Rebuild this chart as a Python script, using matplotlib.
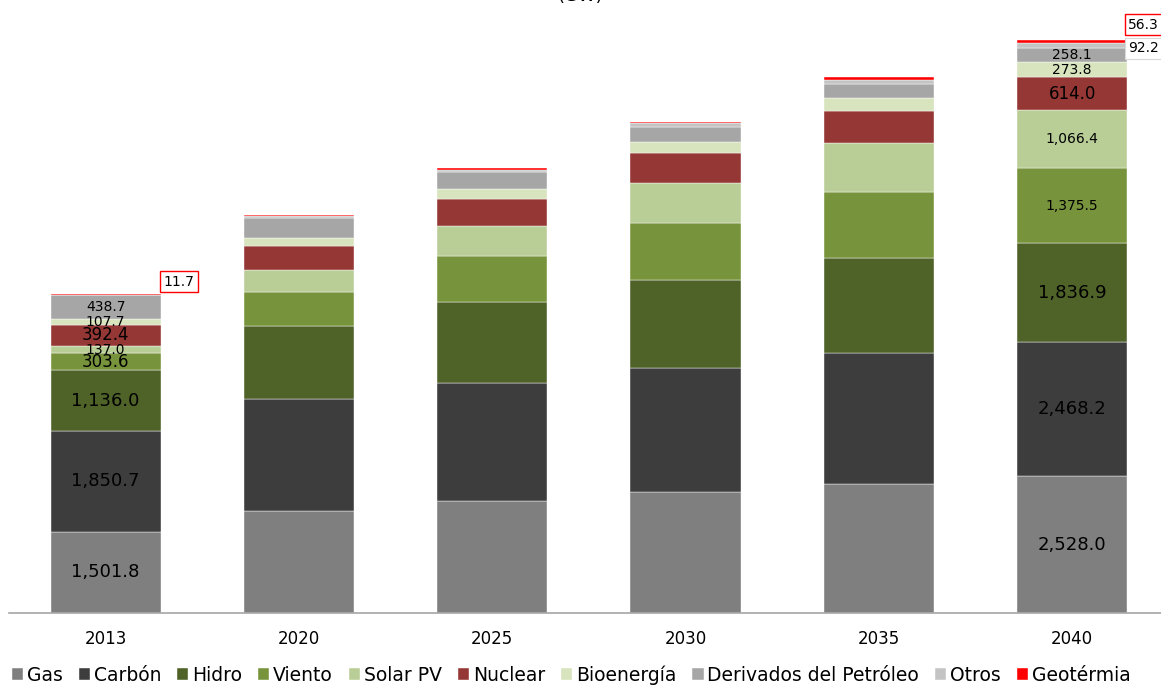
import matplotlib
matplotlib.use("Agg")
import matplotlib.pyplot as plt
import numpy as np

years = ["2013", "2020", "2025", "2030", "2035", "2040"]
series_names = ["Gas", "Carbón", "Hidro", "Viento", "Solar PV", "Nuclear",
                "Bioenergía", "Derivados del Petróleo", "Otros", "Geotérmia"]
gas        = [1501.8, 1890, 2060, 2230, 2380, 2528.0]
carbon     = [1850.7, 2066, 2180, 2290, 2417, 2468.2]
hidro      = [1136.0, 1347, 1494, 1624, 1753, 1836.9]
viento     = [303.6, 627, 849, 1052, 1218, 1375.5]
solar      = [137.0, 406, 554, 738, 904, 1066.4]
nuclear    = [392.4, 443, 498, 553, 590, 614.0]
bio        = [107.7, 148, 185, 203, 240, 273.8]
derivados  = [438.7, 369, 320, 285, 262, 258.1]
otros      = [8, 30, 45, 60, 75, 92.2]
geo        = [11.7, 20, 28, 36, 45, 56.3]

colors = ["#7f7f7f", "#3d3d3d", "#4f6228", "#77933c", "#b9cd96", "#953735",
          "#d7e4bd", "#a6a6a6", "#c4c4c4", "#ff0000"]
data = [gas, carbon, hidro, viento, solar, nuclear, bio, derivados, otros, geo]

plt.rcParams['font.family'] = ['DejaVu Sans']
fig = plt.figure(figsize=(11.61, 6.86), dpi=100)
ax = fig.add_axes([9/1161, 1 - 613/686, 1152/1161, (613 - 30)/686])

x = np.arange(len(years))
width = 0.57
bottom = np.zeros(len(years))
bars = []
for name, vals, c in zip(series_names, data, colors):
    ax.bar(x, vals, width, bottom=bottom, color=c, label=name,
           edgecolor="white", linewidth=0.3)
    bars.append((vals, bottom.copy()))
    bottom = bottom + np.array(vals)

ax.set_xlim(-0.5, 5.46)
ax.set_ylim(0, 10760)
ax.set_yticks([])
for s in ["top", "right", "left"]:
    ax.spines[s].set_visible(False)
ax.spines["bottom"].set_color("#a6a6a6")
ax.spines["bottom"].set_linewidth(1.2)
ax.set_xticks(x)
ax.set_xticklabels(years, fontsize=12)
ax.tick_params(axis="x", length=0, pad=12)

def fmt(v):
    return "{:,.1f}".format(v)

# labels for 2013 (index 0)
sizes_2013 = [13, 13, 13, 12, 10, 12, 10, 10]
for k in range(8):
    vals, bot = bars[k]
    ax.text(0, bot[0] + vals[0] / 2, fmt(vals[0]), ha="center", va="center",
            fontsize=sizes_2013[k], color="black")
# labels for 2040 (index 5)
sizes_2040 = [13, 13, 13, 10, 10, 12, 10, 10]
for k in range(8):
    vals, bot = bars[k]
    ax.text(5, bot[5] + vals[5] / 2, fmt(vals[5]), ha="center", va="center",
            fontsize=sizes_2040[k], color="black")

# boxed labels
top2013 = bottom[0]
ax.text(0.3, top2013 + 230, fmt(geo[0]), ha="left", va="center", fontsize=10,
        bbox=dict(boxstyle="square,pad=0.25", fc="white", ec="red", lw=1))
top2040 = bottom[5]
ax.text(5.29, top2040 + 290, fmt(geo[5]), ha="left", va="center", fontsize=10,
        bbox=dict(boxstyle="square,pad=0.25", fc="white", ec="red", lw=1), clip_on=False)
ax.text(5.29, top2040 - 150, fmt(otros[5]), ha="left", va="center", fontsize=10,
        bbox=dict(boxstyle="square,pad=0.25", fc="white", ec="#d9d9d9", lw=0.8), clip_on=False)

fig.text(0.5, 1 - 1/686, "(GW)", ha="center", va="baseline", fontsize=13)

handles, labels = ax.get_legend_handles_labels()
fig.legend(handles, labels, loc="center", bbox_to_anchor=(0.492, 1 - 675/686),
           ncol=10, frameon=False, fontsize=13.5, handlelength=0.6, handleheight=0.6,
           handletextpad=0.2, columnspacing=0.85, borderpad=0)

fig.savefig("out.png", dpi=100)
